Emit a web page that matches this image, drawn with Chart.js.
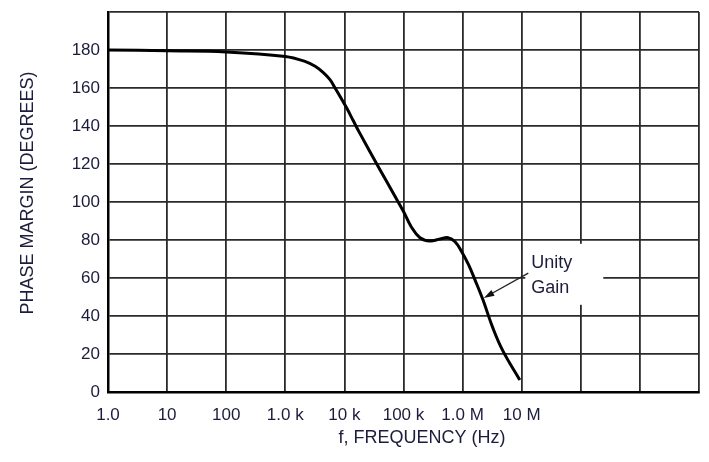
<!DOCTYPE html>
<html>
<head>
<meta charset="utf-8">
<style>
  html, body { margin: 0; padding: 0; background: #fff; }
  canvas { display: block; }
</style>
<script src="https://cdn.jsdelivr.net/npm/chart.js@4/dist/chart.umd.min.js"></script>
</head>
<body>
<canvas id="chart" width="709" height="462"></canvas>
<script>
// frequency (Hz) and phase margin (degrees)
const freqs = [1, 10, 100, 1000, 2150, 3200, 4350, 5700, 6950, 8500, 11000, 14000, 18000,
  40000, 66000, 100000, 135000, 190000, 280000, 415000, 570000, 745000, 960000,
  1260000, 1620000, 2210000, 3270000, 4830000, 9300000];
const phase = [180, 179.6, 179, 176.6, 174, 171.4, 168.2, 164.4, 160, 155.4, 149.3, 143, 136.5,
  117, 105, 95, 87, 81.2, 79.5, 80.5, 81.2, 79.1, 74,
  67, 59, 48.5, 33.5, 21.5, 6.3];

const xTickValues = [1, 10, 100, 1e3, 1e4, 1e5, 1e6, 1e7, 1e8, 1e9, 1e10];
const xTickLabels = ['1.0', '10', '100', '1.0 k', '10 k', '100 k', '1.0 M', '10 M', '', '', ''];
const yTickLabels = ['0', '20', '40', '60', '80', '100', '120', '140', '160', '180', ''];

const xTitle = 'f, FREQUENCY (Hz)';
const yTitle = 'PHASE MARGIN (DEGREES)';
const noteLines = ['Unity', 'Gain'];

const textColor = '#1c1c3c';
const gridColor = '#2a2a2a';

const extras = {
  id: 'extras',
  afterDraw(chart) {
    const ctx = chart.ctx;
    const xs = chart.scales.x, ys = chart.scales.y;
    ctx.save();
    ctx.fillStyle = textColor;
    ctx.font = '18px "Liberation Sans", Arial, sans-serif';
    ctx.textAlign = 'center';
    ctx.textBaseline = 'middle';
    ctx.fillText(xTitle, 422, 438);
    ctx.translate(28, 193);
    ctx.rotate(-Math.PI / 2);
    ctx.fillText(yTitle, 0, 0);
    ctx.restore();

    // "Unity Gain" note, with a white patch over the grid
    ctx.save();
    const bx = xs.getPixelForValue(1.15e7);
    ctx.fillStyle = '#fff';
    ctx.fillRect(bx, ys.getPixelForValue(78), 78, 61);
    ctx.fillStyle = textColor;
    ctx.font = '18px "Liberation Sans", Arial, sans-serif';
    ctx.textAlign = 'left';
    ctx.textBaseline = 'middle';
    const tx = bx + 6;
    ctx.fillText(noteLines[0], tx, ys.getPixelForValue(67.9));
    ctx.fillText(noteLines[1], tx, ys.getPixelForValue(54.7));
    // arrow
    const x0 = tx - 3, y0 = ys.getPixelForValue(62.6);
    const x1 = xs.getPixelForValue(2.2e6) + 1, y1 = ys.getPixelForValue(49.5);
    const ang = Math.atan2(y1 - y0, x1 - x0);
    ctx.strokeStyle = '#222';
    ctx.lineWidth = 1.3;
    ctx.beginPath();
    ctx.moveTo(x0, y0);
    ctx.lineTo(x1 - 6 * Math.cos(ang), y1 - 6 * Math.sin(ang));
    ctx.stroke();
    ctx.fillStyle = '#111';
    ctx.beginPath();
    ctx.moveTo(x1, y1);
    ctx.lineTo(x1 - 11 * Math.cos(ang - 0.3), y1 - 11 * Math.sin(ang - 0.3));
    ctx.lineTo(x1 - 11 * Math.cos(ang + 0.3), y1 - 11 * Math.sin(ang + 0.3));
    ctx.closePath();
    ctx.fill();
    ctx.restore();
  }
};

new Chart(document.getElementById('chart'), {
  type: 'line',
  data: {
    datasets: [{
      data: freqs.map((f, i) => ({ x: f, y: phase[i] })),
      borderColor: '#000',
      borderWidth: 3,
      pointRadius: 0,
      tension: 0.4,
      fill: false
    }]
  },
  options: {
    responsive: false,
    animation: false,
    layout: { padding: { top: 12, right: 10, left: 0, bottom: 0 } },
    plugins: { legend: { display: false }, tooltip: { enabled: false } },
    scales: {
      x: {
        type: 'logarithmic',
        min: 1,
        max: 1e10,
        afterBuildTicks(scale) {
          scale.ticks = xTickValues.map(v => ({ value: v }));
        },
        afterFit(scale) {
          scale.height = 70;
          scale.paddingLeft = 0;
          scale.paddingRight = 0;
        },
        border: { color: '#000', width: 2.5 },
        grid: { color: gridColor, lineWidth: 1.8, drawTicks: false },
        ticks: {
          autoSkip: false,
          maxRotation: 0,
          padding: 13,
          color: textColor,
          font: { family: '"Liberation Sans", Arial, sans-serif', size: 17 },
          callback: (v, i) => xTickLabels[i]
        }
      },
      y: {
        min: 0,
        max: 200,
        afterFit(scale) {
          scale.width = 108;
          scale.paddingTop = 0;
          scale.paddingBottom = 0;
        },
        border: { color: '#000', width: 2.5 },
        grid: { color: gridColor, lineWidth: 1.8, drawTicks: false },
        ticks: {
          stepSize: 20,
          padding: 8,
          color: textColor,
          font: { family: '"Liberation Sans", Arial, sans-serif', size: 17 },
          callback: (v, i) => yTickLabels[i]
        }
      }
    }
  },
  plugins: [extras]
});
</script>
</body>
</html>
